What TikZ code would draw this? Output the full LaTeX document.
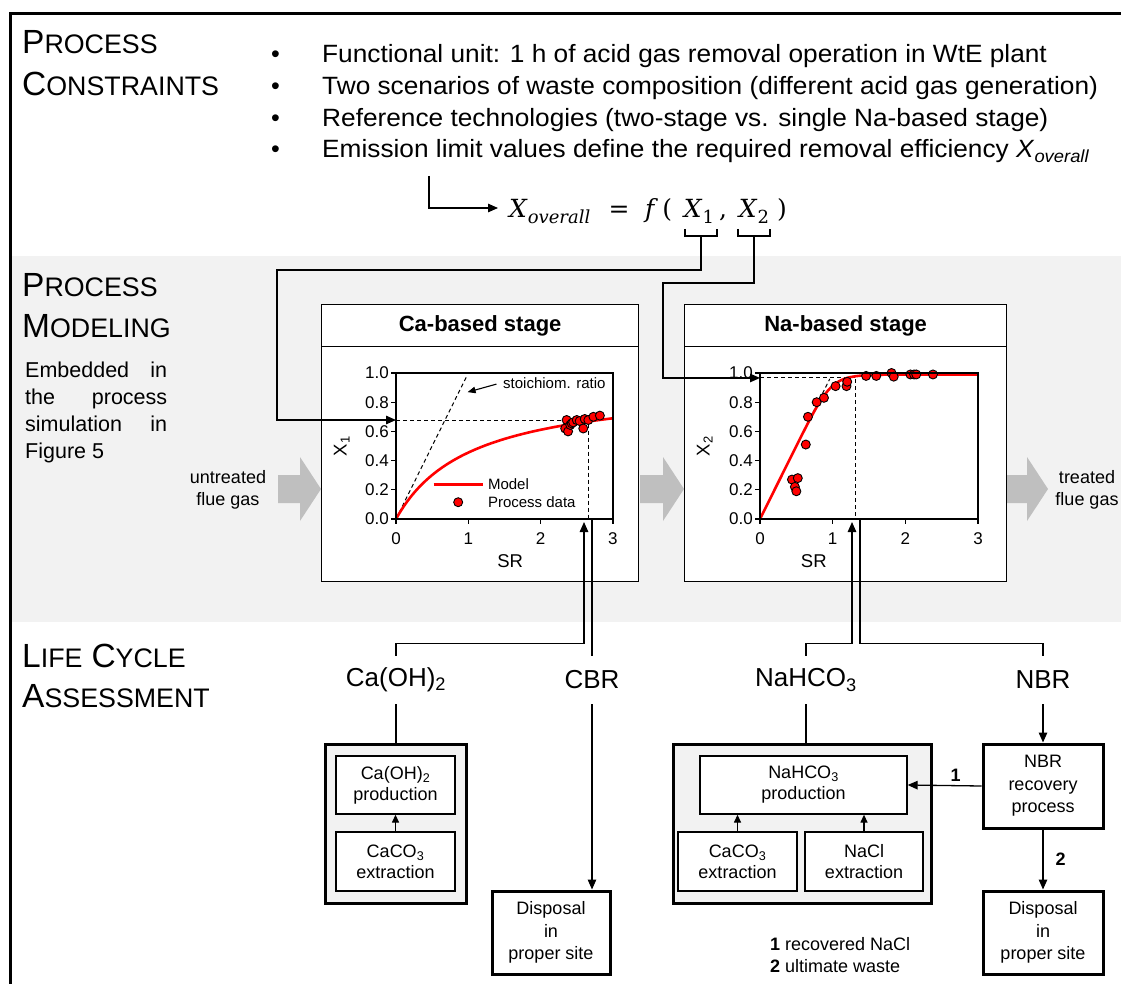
\documentclass[tikz,border=0pt]{standalone}
\usepackage[no-math]{fontspec}
\usepackage{graphicx}
\setmainfont{Liberation Sans}
\newfontfamily\eqserif{DejaVu Serif}
\usetikzlibrary{arrows.meta}
\definecolor{bandgray}{HTML}{F2F2F2}
\definecolor{flowgray}{HTML}{BFBFBF}
\newcommand\fsz[2]{\fontsize{#1}{#2}\selectfont}
\newcommand\hcap[2]{{\fsz{33.5}{36}#1}{\fsz{26.8}{30}#2}}
\newcommand\wide[1]{\scalebox{1.05}[1]{#1}}
\tikzset{
  conn/.style={line width=1.3pt},
  arr/.style={conn, -{Triangle[length=10pt,width=8.5pt]}},
  sarr/.style={conn, -{Triangle[length=8pt,width=7pt]}},
  dsh/.style={line width=1pt, dash pattern=on 4pt off 3pt},
  stagebox/.style={draw, line width=1.3pt, fill=white, anchor=north west, inner sep=0pt},
  obox/.style={draw, line width=3pt, fill=bandgray, inner sep=0pt},
  ibox/.style={draw, line width=1.3pt, fill=white, align=center, inner sep=0pt, font=\fsz{18}{21}},
  dbox/.style={draw, line width=3pt, fill=white, align=center, inner sep=0pt, font=\fsz{18}{22.5}},
  lcalbl/.style={inner sep=0pt, minimum height=48pt, font=\fsz{26}{30}},
  head/.style={anchor=base west, inner sep=0pt},
  bullettxt/.style={anchor=base west, inner sep=0pt, font=\fsz{25}{30}},
  eqf/.style={inner sep=0pt, font=\eqserif\fsz{25}{30}},
  ticklbl/.style={font=\fsz{17}{19}, inner sep=0pt},
  axlbl/.style={font=\fsz{18.5}{20}, inner sep=0pt},
  smalltxt/.style={font=\fsz{15}{17}, inner sep=0pt},
  flowtxt/.style={font=\fsz{18}{22}, anchor=base, inner sep=0pt},
  datapt/.style={fill=red, draw=black, line width=0.9pt},
  model/.style={red, line width=2.6pt},
  axis/.style={line width=1.2pt},
}
\begin{document}
\begin{tikzpicture}[x=1pt,y=-1pt]
\useasboundingbox (0,0) rectangle (1121,984);
% band and frame
\fill[bandgray] (12,256) rectangle (1121,622);
\draw[line width=3pt] (10,984) -- (10,14) -- (1121,14);

% headings
\node[head] (h1a) at (22,54) {\hcap{P}{ROCESS}};
\node[head] (h1b) at (22,96) {\hcap{C}{ONSTRAINTS}};
\node[head] (h2a) at (22,296) {\hcap{P}{ROCESS}};
\node[head] (h2b) at (22,337) {\hcap{M}{ODELING}};
\node[head] (h3a) at (22,667) {\hcap{L}{IFE}\hspace{9pt}\hcap{C}{YCLE}};
\node[head] (h3b) at (22,707) {\hcap{A}{SSESSMENT}};

% embedded text
\node[head, font=\fsz{21.5}{24}] (e1) at (25,377) {\makebox[142pt][s]{Embedded in}};
\node[head, font=\fsz{21.5}{24}] (e2) at (25,404) {\makebox[142pt][s]{the process}};
\node[head, font=\fsz{21.5}{24}] (e3) at (25,431) {\makebox[142pt][s]{simulation in}};
\node[head, font=\fsz{21.5}{24}] (e4) at (25,458) {Figure 5};

% bullets
\foreach \yy in {63,95,126.5,158}{\node[bullettxt] at (271,\yy) {\textbullet};}
\node[bullettxt] (b1) at (322,63) {\wide{Functional unit: 1 h of acid gas removal operation in WtE plant}};
\node[bullettxt] (b2) at (322,95) {\wide{Two scenarios of waste composition (different acid gas generation)}};
\node[bullettxt] (b3) at (322,126.5) {\wide{Reference technologies (two-stage vs. single Na-based stage)}};
\node[bullettxt] (b4) at (322,158) {\wide{Emission limit values define the required removal efficiency \textit{X}\textsubscript{\textit{overall}}}};

% equation
\node[eqf, anchor=base west] (eqXo) at (509,218) {\textit{X}\raisebox{-6pt}{\fsz{18}{20}\textit{overall}}};
\node[eqf, anchor=base] (eqeq) at (619,218) {=};
\node[eqf, anchor=base west] (eqfn) at (645,218) {\textit{f}\,(};
\node[eqf, anchor=base] (eqX1) at (699,218) {\textit{X}\raisebox{-6pt}{\fsz{18}{20}1}};
\node[eqf, anchor=base] (eqcm) at (723,218) {,};
\node[eqf, anchor=base] (eqX2) at (754,218) {\textit{X}\raisebox{-6pt}{\fsz{18}{20}2}};
\node[eqf, anchor=base] (eqcl) at (782,218) {)};
\coordinate (eqsrc) at (429,176);
\coordinate (eqin) at (498,208);
\draw[arr] (eqsrc) |- (eqin);
\draw[conn] (685,229) |- (717,236) -- (717,229);
\draw[conn] (738,229) |- (770,236) -- (770,229);
\coordinate (br1) at (701,236);
\coordinate (br2) at (754,236);

% stage boxes
\node[stagebox, minimum width=317pt, minimum height=277pt] (cabox) at (321,304) {};
\node[stagebox, minimum width=317pt, minimum height=42pt, font=\bfseries\fsz{22}{24}] (cahead) at (321,304) {Ca-based stage};
\node[stagebox, minimum width=322pt, minimum height=277pt] (nabox) at (684,304) {};
\node[stagebox, minimum width=322pt, minimum height=42pt, font=\bfseries\fsz{22}{24}] (nahead) at (684,304) {Na-based stage};

% flue gas arrows
\fill[flowgray] (278,475) -- (300,475) -- (300,457) -- (321,489) -- (300,521) -- (300,503) -- (278,503) -- cycle;
\fill[flowgray] (640,475) -- (663,475) -- (663,457) -- (684,489) -- (663,521) -- (663,503) -- (640,503) -- cycle;
\fill[flowgray] (1007,475) -- (1027,475) -- (1027,457) -- (1048,489) -- (1027,521) -- (1027,503) -- (1007,503) -- cycle;
\node[flowtxt] (ut1) at (228,483) {untreated};
\node[flowtxt] (ut2) at (228,505) {flue gas};
\node[flowtxt] (tr1) at (1087,483) {treated};
\node[flowtxt] (tr2) at (1087,505) {flue gas};

% Ca plot
\begin{scope}[shift={(396,519)}, x=72.3pt, y=146pt]
  \draw[dsh] (0,0) -- (0.98,0.98);
  \draw[dsh] (0,0.678) -- (2.66,0.678) -- (2.66,0);
  \draw[model] plot[domain=0:3, samples=80] (\x,{0.93*\x/(1.044+\x)});
  \foreach \a/\b in {2.36/0.678,2.34/0.62,2.38/0.60,2.41/0.644,2.43/0.655,2.45/0.662,2.50/0.678,2.54/0.671,2.59/0.62,2.61/0.685,2.66/0.678,2.73/0.70,2.82/0.708}
    {\draw[datapt] (\a,\b) circle (4.5pt);}
  \draw[axis] (0,0) rectangle (3,1);
  \foreach \t in {0,1,2,3}{\draw[axis] (\t,0) -- ++(0pt,-5pt); \node[ticklbl] at (\t,-0.137) {\t};}
  \foreach \v/\l in {0/0.0,0.2/0.2,0.4/0.4,0.6/0.6,0.8/0.8,1/1.0}{\draw[axis] (0,\v) -- ++(-5pt,0pt); \node[ticklbl, anchor=east] at (-0.097,\v) {\l};}
  \node[axlbl] (casr) at (1.58,-0.288) {SR};
  \node[axlbl, rotate=90] (cay) at (-0.75,0.5) {X\textsubscript{1}};
  \draw[model] (0.52,0.237) -- (1.21,0.237);
  \node[smalltxt, anchor=west] (calm) at (1.27,0.237) {Model};
  \draw[datapt] (0.86,0.115) circle (4.5pt);
  \node[smalltxt, anchor=west] (calp) at (1.27,0.115) {Process data};
  \draw[line width=1.1pt, -{Triangle[length=8pt,width=6.5pt]}] (1.39,0.924) -- (0.99,0.869);
  \node[smalltxt, anchor=west] (stoi) at (1.48,0.93) {stoichiom. ratio};
  \coordinate (x1in) at (0,0.678);
\end{scope}

% Na plot
\begin{scope}[shift={(760,519)}, x=72.67pt, y=146pt]
  \draw[dsh] (0,0) -- (0.96,0.96);
  \draw[dsh] (0,0.97) -- (1.32,0.97) -- (1.32,0);
  \draw[model] plot[domain=0:3, samples=120] (\x,{0.99*\x/((\x^8+0.9227)^(0.125))});
  \foreach \a/\b in {0.44/0.27,0.52/0.28,0.48/0.22,0.50/0.19,0.63/0.51,0.66/0.70,0.78/0.80,0.88/0.83,1.04/0.91,1.19/0.91,1.20/0.94,1.46/0.98,1.60/0.98,1.81/1.0,1.84/0.975,2.07/0.99,2.12/0.99,2.15/0.99,2.38/0.99}
    {\draw[datapt] (\a,\b) circle (4.5pt);}
  \draw[axis] (0,0) rectangle (3,1);
  \foreach \t in {0,1,2,3}{\draw[axis] (\t,0) -- ++(0pt,-5pt); \node[ticklbl] at (\t,-0.137) {\t};}
  \foreach \v/\l in {0/0.0,0.2/0.2,0.4/0.4,0.6/0.6,0.8/0.8,1/1.0}{\draw[axis] (0,\v) -- ++(-5pt,0pt); \node[ticklbl, anchor=east] at (-0.097,\v) {\l};}
  \node[axlbl] (nasr) at (0.74,-0.288) {SR};
  \node[axlbl, rotate=90] (nay) at (-0.76,0.5) {X\textsubscript{2}};
  \coordinate (x2in) at (0,0.966);
\end{scope}

% connectors from equation
\draw[arr] (br1) |- (277,270) |- (x1in);
\draw[arr] (br2) |- (663,283) |- (x2in);

% LCA labels
\node[lcalbl] (caoh) at (396,680) {Ca(OH)\textsubscript{2}};
\node[lcalbl] (cbr) at (592,680) {CBR};
\node[lcalbl] (nahco) at (806,680) {NaHCO\textsubscript{3}};
\node[lcalbl] (nbr) at (1043,680) {NBR};
\coordinate (caup) at (584,522);
\coordinate (cbrtop) at (592,519);
\coordinate (naup) at (852,522);
\coordinate (nbrtop) at (860,519);
\draw[arr] (caoh.north) -- ++(0,-12) -| (caup);
\draw[conn] (cbr.north) -- (cbrtop);
\draw[arr] (nahco.north) -- ++(0,-12) -| (naup);
\draw[conn] (nbr.north) -- ++(0,-12) -| (nbrtop);

% Ca LCA
\node[obox, minimum width=141pt, minimum height=159pt] (caouter) at (395.5,823.5) {};
\node[ibox, minimum width=119pt, minimum height=58pt] (caprod) at (395.5,785) {Ca(OH)\textsubscript{2}\\production};
\node[ibox, minimum width=119pt, minimum height=59pt] (caext) at (395.5,861.5) {CaCO\textsubscript{3}\\extraction};
\draw[sarr] (caext.north) -- (caprod.south);
\node[dbox, minimum width=118pt, minimum height=83pt] (cadisp) at (551,932.5) {Disposal\\in\\proper site};
\draw[conn] (caoh.south) -- (caoh.south |- caouter.north);
\draw[arr] (cbr.south) -- (cbr.south |- cadisp.north);

% Na LCA
\node[obox, minimum width=258pt, minimum height=159pt] (naouter) at (802,823.5) {};
\node[ibox, minimum width=207pt, minimum height=58pt] (naprod) at (803.5,785) {NaHCO\textsubscript{3}\\production};
\node[ibox, minimum width=119pt, minimum height=59pt] (nacaext) at (737.5,861.5) {CaCO\textsubscript{3}\\extraction};
\node[ibox, minimum width=118pt, minimum height=59pt] (naclext) at (864,861.5) {NaCl\\extraction};
\draw[sarr] (nacaext.north) -- (nacaext.north |- naprod.south);
\draw[sarr] (naclext.north) -- (naclext.north |- naprod.south);
\node[dbox, minimum width=120pt, minimum height=84pt] (nbrrec) at (1043,786) {NBR\\recovery\\process};
\node[dbox, minimum width=120pt, minimum height=83pt] (nadisp) at (1043,932.5) {Disposal\\in\\proper site};
\draw[conn] (nahco.south) -- (nahco.south |- naouter.north);
\draw[arr] (nbr.south) -- (nbrrec.north);
\draw[arr] (nbrrec.west) -- (naprod.east) node[pos=0.35, above=4pt, font=\bfseries\fsz{18}{20}, inner sep=0pt] {1};
\draw[arr] (nbrrec.south) -- (nadisp.north) node[midway, right=12pt, font=\bfseries\fsz{18}{20}, inner sep=0pt] {2};

% legend
\node[head, font=\fsz{18}{22}] (leg1) at (770,950) {\textbf{1} recovered NaCl};
\node[head, font=\fsz{18}{22}] (leg2) at (770,972) {\textbf{2} ultimate waste};
\end{tikzpicture}
\end{document}
